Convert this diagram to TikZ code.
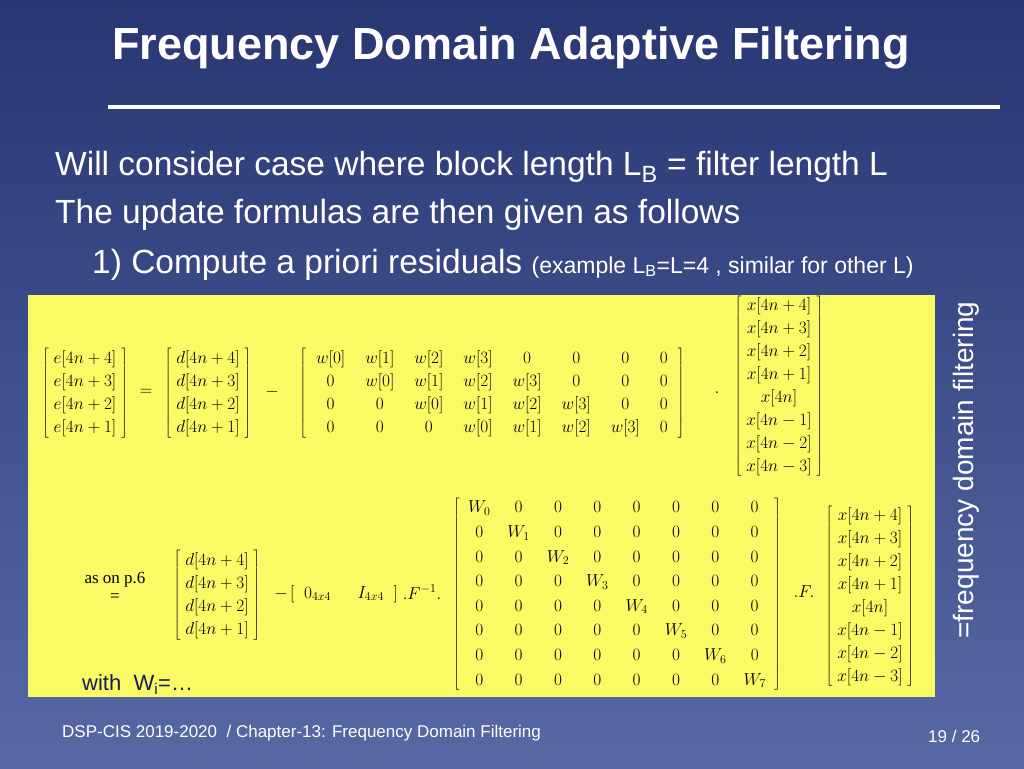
\documentclass[tikz,border=0pt]{standalone}
\usepackage{fontspec}
\setmainfont{Liberation Sans}
\newfontfamily\serif{Liberation Serif}
\begin{document}
\begin{tikzpicture}[x=1pt,y=-1pt,
  txt/.style={inner sep=0pt,anchor=base west,text=white},
  mx/.style={inner sep=0pt,font=\fontsize{17}{23}\selectfont},
  ]
\useasboundingbox (0,0) rectangle (1024,768);
\shade[top color={rgb,255:red,40;green,55;blue,115},bottom color={rgb,255:red,88;green,104;blue,165}] (0,0) rectangle (1024,768);
\node[txt,anchor=center,font=\fontsize{45}{48}\selectfont\bfseries] (title) at (511,48) {Frequency Domain Adaptive Filtering};
\draw[white,line width=4] (108,107) coordinate (l1) -- (1000,107) coordinate (l2);
\node[txt,font=\fontsize{33.5}{36}\selectfont] (t1) at (55,175) {Will consider case where block length L$_{\mathrm{B}}$ = filter length L};
\node[txt,font=\fontsize{33.5}{36}\selectfont] (t2) at (55,223) {The update formulas are then given as follows};
\node[txt,font=\fontsize{33.5}{36}\selectfont] (t3) at (92,273) {1) Compute a priori residuals {\fontsize{23}{25}\selectfont (example L$_{\mathrm{B}}$=L=4 , similar for other L)}};
\fill[fill={rgb,255:red,250;green,250;blue,100}] (28,295) rectangle (935,697);
\node[txt,rotate=90,anchor=center,font=\fontsize{28}{30}\selectfont] (side) at (966,470) {=frequency domain filtering};
% top equation
\def\arraystretch{1}
\node[mx] (ev) at (85,393) {$\left[\begin{array}{c} e[4n+4]\\ e[4n+3]\\ e[4n+2]\\ e[4n+1]\end{array}\right]$};
\node[mx] (eq) at (146,392) {$=$};
\node[mx] (dv) at (208,393) {$\left[\begin{array}{c} d[4n+4]\\ d[4n+3]\\ d[4n+2]\\ d[4n+1]\end{array}\right]$};
\node[mx] (mi) at (272,392) {$-$};
\node[mx] (wm) at (492,393) {$\setlength\arraycolsep{10pt}\left[\begin{array}{cccccccc}
w[0]&w[1]&w[2]&w[3]&0&0&0&0\\
0&w[0]&w[1]&w[2]&w[3]&0&0&0\\
0&0&w[0]&w[1]&w[2]&w[3]&0&0\\
0&0&0&w[0]&w[1]&w[2]&w[3]&0\end{array}\right]$};
\node[mx] (dot) at (717,393) {$.$};
\node[mx] (xv) at (779,386) {$\left[\begin{array}{c} x[4n+4]\\ x[4n+3]\\ x[4n+2]\\ x[4n+1]\\ x[4n]\\ x[4n-1]\\ x[4n-2]\\ x[4n-3]\end{array}\right]$};
% bottom equation
\node[inner sep=0pt,font=\serif\fontsize{17}{18}\selectfont,align=center] (aop) at (115,587) {as on p.6\\=};
\node[mx] (dv2) at (217,595) {$\left[\begin{array}{c} d[4n+4]\\ d[4n+3]\\ d[4n+2]\\ d[4n+1]\end{array}\right]$};
\node[mx] (mi2) at (281,594) {$-$};
\node[mx] (oi) at (344,594) {$\left[\;\; 0_{4x4}\quad\;\; I_{4x4}\;\;\right]$};
\node[mx] (fi) at (422,592) {$.F^{-1}.$};
\node[mx,font=\fontsize{17}{24.6}\selectfont] (big) at (617,594) {$\setlength\arraycolsep{8.5pt}\left[\begin{array}{cccccccc}
W_0&0&0&0&0&0&0&0\\
0&W_1&0&0&0&0&0&0\\
0&0&W_2&0&0&0&0&0\\
0&0&0&W_3&0&0&0&0\\
0&0&0&0&W_4&0&0&0\\
0&0&0&0&0&W_5&0&0\\
0&0&0&0&0&0&W_6&0\\
0&0&0&0&0&0&0&W_7\end{array}\right]$};
\node[mx] (ff) at (804,592) {$.F.$};
\node[mx] (xv2) at (870,596) {$\left[\begin{array}{c} x[4n+4]\\ x[4n+3]\\ x[4n+2]\\ x[4n+1]\\ x[4n]\\ x[4n-1]\\ x[4n-2]\\ x[4n-3]\end{array}\right]$};
\node[txt,text={rgb,255:red,20;green,30;blue,80},font=\fontsize{22}{24}\selectfont] (with) at (82,690) {with\ \ W$_{\mathrm{i}}$=\dots};
% footer
\node[txt,font=\fontsize{17}{18}\selectfont] (foot) at (62,737) {DSP-CIS 2019-2020\ \ / Chapter-13: Frequency Domain Filtering};
\node[txt,font=\fontsize{17}{18}\selectfont] (pg) at (928,742) {19 / 26};
\end{tikzpicture}
\end{document}
